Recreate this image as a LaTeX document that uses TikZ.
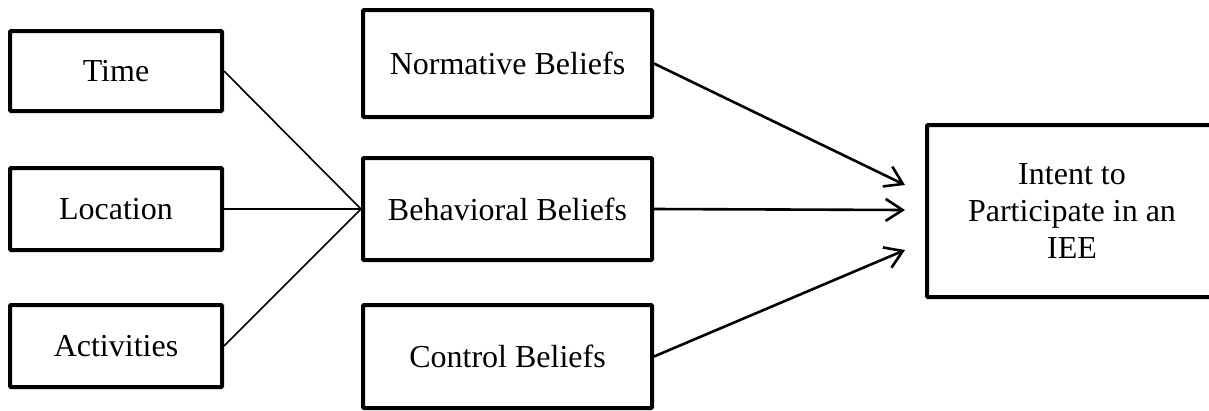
\documentclass[tikz,border=0pt]{standalone}
\usepackage{fontspec}
\setmainfont{Liberation Serif}
\usetikzlibrary{arrows.meta}
\begin{document}
\begin{tikzpicture}[x=1pt,y=-1pt,
  box/.style={draw=black,line width=4pt,rounded corners=1pt,inner sep=0pt,
    font=\fontsize{32}{37}\selectfont,align=center},
  thin/.style={line width=1.6pt},
  arr/.style={line width=2.6pt,-{Straight Barb[length=17pt,width=22pt,line width=2.6pt]}}]
\clip (0,0) rectangle (1209,410);
\useasboundingbox (0,0) rectangle (1209,410);
\node[box,minimum width=212pt,minimum height=80pt] (time) at (116,71) {Time};
\node[box,minimum width=212pt,minimum height=82pt] (loc) at (116,209) {Location};
\node[box,minimum width=212pt,minimum height=82pt] (act) at (116,346) {Activities};
\node[box,minimum width=289pt,minimum height=107pt] (norm) at (507.5,63.5) {Normative Beliefs};
\node[box,minimum width=289pt,minimum height=102pt] (beh) at (507.5,209) {Behavioral Beliefs};
\node[box,minimum width=289pt,minimum height=103pt] (ctl) at (507.5,356.5) {Control Beliefs};
\node[box,minimum width=290pt,minimum height=172pt] (iee) at (1072,211) {Intent to\\Participate in an\\IEE};
\draw[thin] (time.east) -- (beh.west);
\draw[thin] (loc.east) -- (beh.west);
\draw[thin] (act.east) -- (beh.west);
\coordinate (t1) at (905,185);
\coordinate (t2) at (905,210);
\coordinate (t3) at (905,250);
\draw[arr] (norm.east) -- (t1);
\draw[arr] (beh.east) -- (t2);
\draw[arr] (ctl.east) -- (t3);
\end{tikzpicture}
\end{document}
